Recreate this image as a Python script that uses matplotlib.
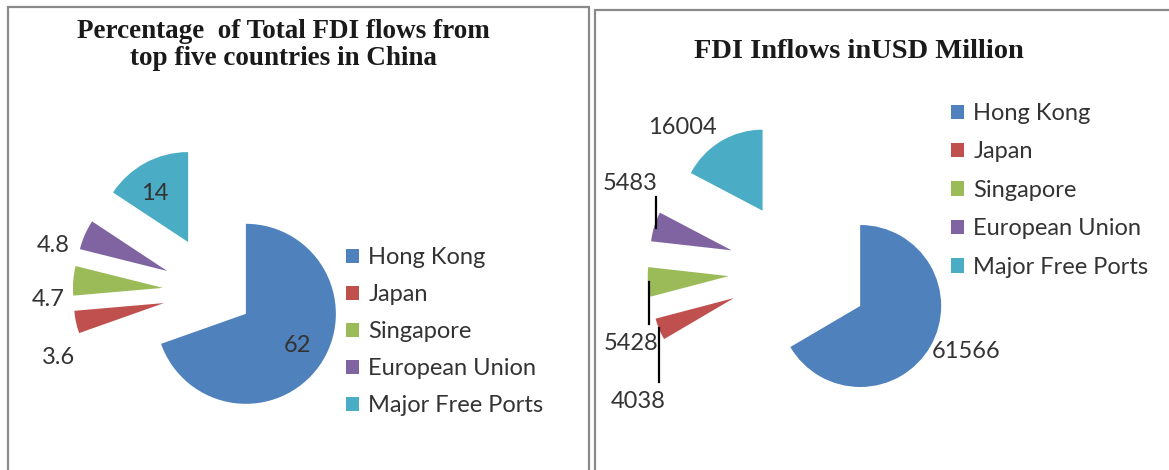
import matplotlib.pyplot as plt
from matplotlib.lines import Line2D
from matplotlib.patches import Rectangle

countries = ['Hong Kong', 'Japan', 'Singapore', 'European Union', 'Major Free Ports']
share_pct = [62, 3.6, 4.7, 4.8, 14]
inflows_usd_mn = [61566, 4038, 5428, 5483, 16004]
colors = ['#4F81BD', '#C0504D', '#9BBB59', '#8064A2', '#4BACC6']

W, H = 1169, 470
fig = plt.figure(figsize=(W / 100, H / 100), dpi=100)
plt.rcParams['font.family'] = ['Lato', 'DejaVu Sans']
txt_color = '#333333'


def fx(x):
    return x / W


def fy(y):
    return 1 - y / H


def pie_axes(cx, cy, r_px, half=200):
    # square axes centred on the pie, scaled so that radius 1 == r_px pixels
    ax = fig.add_axes([fx(cx - half), fy(cy + half), 2 * half / W, 2 * half / H])
    return ax, half / r_px


def draw_pie(ax, lim, values, explode):
    wedges, _ = ax.pie(values, colors=colors, startangle=90, counterclock=False,
                       explode=explode, radius=1, wedgeprops=dict(linewidth=0))
    ax.set_xlim(-lim, lim)
    ax.set_ylim(-lim, lim)
    ax.set_aspect('auto')
    ax.axis('off')
    return wedges


def label(x, y, s, **kw):
    fig.text(fx(x), fy(y), s, ha='center', va='center', fontsize=17,
             color=txt_color, **kw)


def leader(x, y0, y1):
    fig.add_artist(Line2D([fx(x), fx(x)], [fy(y0), fy(y1)], color='black',
                          lw=1.6, transform=fig.transFigure))


# panel borders
for x0, y0, x1 in [(8, 7, 589), (595, 10, 1185)]:
    fig.add_artist(Rectangle((fx(x0), fy(490)), fx(x1) - fx(x0), fy(y0) - fy(490),
                             transform=fig.transFigure, fill=False,
                             edgecolor='#8a8a8a', lw=1.6))

# left: percentage shares
ax1, lim1 = pie_axes(215, 292, 90)
w1 = draw_pie(ax1, lim1, share_pct, [0.42, 0.58, 0.58, 0.58, 0.63])
fig.text(fx(283), fy(45), 'Percentage  of Total FDI flows from\ntop five countries in China',
         ha='center', va='center', fontsize=19.5, fontweight='bold',
         family='Liberation Serif', color='#1a1a1a', linespacing=1.15)
label(155, 193, f'{share_pct[4]:g}', )
label(297, 345, f'{share_pct[0]:g}')
label(53, 245, f'{share_pct[3]:g}')
label(48, 300, f'{share_pct[2]:g}')
label(59, 358, f'{share_pct[1]:g}')
fig.legend(w1, countries, loc='upper left', bbox_to_anchor=(fx(346), fy(247)),
           frameon=False, fontsize=17, handlelength=0.55, handleheight=0.55,
           handletextpad=0.4, labelspacing=0.68, borderpad=0, borderaxespad=0,
           labelcolor=txt_color)

# right: inflows in USD million
ax2, lim2 = pie_axes(799, 271, 81)
w2 = draw_pie(ax2, lim2, inflows_usd_mn, [0.87] * 5)
fig.text(fx(859), fy(51), 'FDI Inflows inUSD Million', ha='center', va='center',
         fontsize=20.5, fontweight='bold', family='Liberation Serif', color='#1a1a1a')
label(682, 127, str(inflows_usd_mn[4]))
label(630, 183, str(inflows_usd_mn[3]))
label(631, 343, str(inflows_usd_mn[2]))
label(638, 401, str(inflows_usd_mn[1]))
label(966, 351, str(inflows_usd_mn[0]))
leader(656, 197, 228)
leader(649, 282, 324)
leader(659, 328, 382)
fig.legend(w2, countries, loc='upper left', bbox_to_anchor=(fx(951), fy(103)),
           frameon=False, fontsize=17, handlelength=0.55, handleheight=0.55,
           handletextpad=0.4, labelspacing=0.74, borderpad=0, borderaxespad=0,
           labelcolor=txt_color)

fig.savefig('out.png', dpi=100)
